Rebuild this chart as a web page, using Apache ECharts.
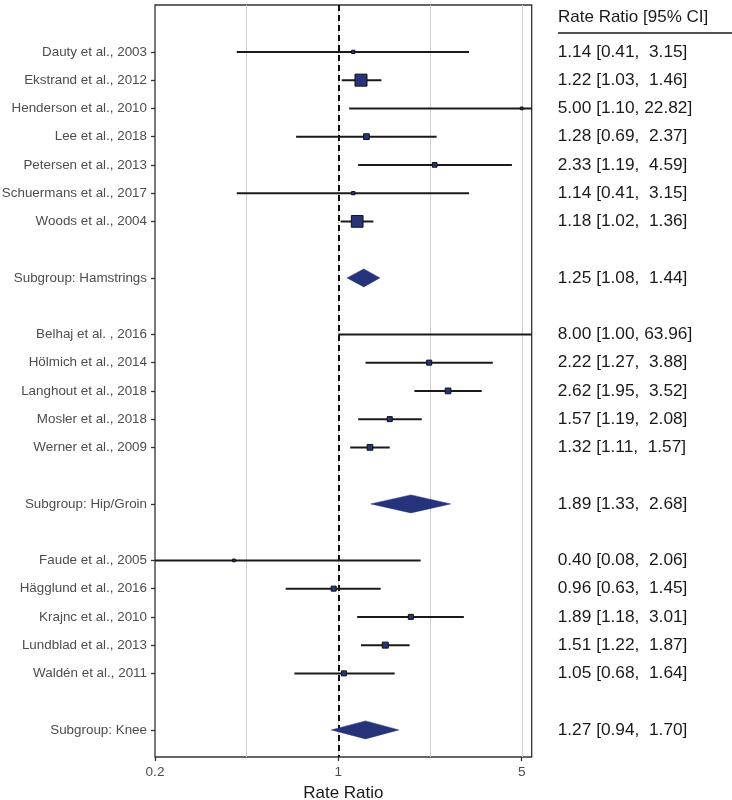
<!DOCTYPE html>
<html>
<head>
<meta charset="utf-8">
<script src="https://cdn.jsdelivr.net/npm/echarts@6/dist/echarts.min.js"></script>
<style>html,body{margin:0;padding:0;background:#fff;}#c{width:732px;height:800px;}</style>
</head>
<body>
<div id="c"></div>
<script>
const studyLabels = ['Dauty et al., 2003','Ekstrand et al., 2012','Henderson et al., 2010','Lee et al., 2018','Petersen et al., 2013','Schuermans et al., 2017','Woods et al., 2004',
  'Belhaj et al. , 2016','Hölmich et al., 2014','Langhout et al., 2018','Mosler et al., 2018','Werner et al., 2009',
  'Faude et al., 2005','Hägglund et al., 2016','Krajnc et al., 2010','Lundblad et al., 2013','Waldén et al., 2011'];
const studyGroup = ['Hamstrings','Hamstrings','Hamstrings','Hamstrings','Hamstrings','Hamstrings','Hamstrings',
  'Hip/Groin','Hip/Groin','Hip/Groin','Hip/Groin','Hip/Groin',
  'Knee','Knee','Knee','Knee','Knee'];
const studyRR = [1.14,1.22,5.00,1.28,2.33,1.14,1.18, 8.00,2.22,2.62,1.57,1.32, 0.40,0.96,1.89,1.51,1.05];
const studyLo = [0.41,1.03,1.10,0.69,1.19,0.41,1.02, 1.00,1.27,1.95,1.19,1.11, 0.08,0.63,1.18,1.22,0.68];
const studyHi = [3.15,1.46,22.82,2.37,4.59,3.15,1.36, 63.96,3.88,3.52,2.08,1.57, 2.06,1.45,3.01,1.87,1.64];
const studyWeight = [3,40,2,9,6,3,38, 1,7,9,7,9, 2,7,7,10,7];
const subgroupNames = ['Hamstrings','Hip/Groin','Knee'];
const subgroupRR = [1.25,1.89,1.27];
const subgroupLo = [1.08,1.33,0.94];
const subgroupHi = [1.44,2.68,1.70];
const xTickValues = [0.2,1,5];
const xMin = 0.2, xMax = 5.46;

// build row layout
const rowLabel = {}, rowText = {};
const studyRows = [], subRows = [];
let row = 1;
function fmt(v){return v.toFixed(2);}
function ciText(rr,lo,hi){return fmt(rr)+' ['+fmt(lo)+', '+(hi<10?' ':'')+fmt(hi)+']';}
subgroupNames.forEach((g,gi)=>{
  studyLabels.forEach((s,i)=>{
    if(studyGroup[i]!==g) return;
    studyRows.push([row,studyRR[i],studyLo[i],studyHi[i],studyWeight[i]]);
    rowLabel[row]=s; rowText[row]=ciText(studyRR[i],studyLo[i],studyHi[i]);
    row++;
  });
  row++;
  subRows.push([row,subgroupRR[gi],subgroupLo[gi],subgroupHi[gi]]);
  rowLabel[row]='Subgroup: '+g; rowText[row]=ciText(subgroupRR[gi],subgroupLo[gi],subgroupHi[gi]);
  row+=2;
});
const labelRows = Object.keys(rowLabel).map(Number);
const L = Math.log10;
const yMin = -0.66, yMax = 25.96;
const gridVals = [Math.sqrt(xTickValues[0]*xTickValues[1]), xTickValues[1], Math.sqrt(xTickValues[1]*xTickValues[2]), xTickValues[2]];

const chart = echarts.init(document.getElementById('c'));
const lab = {fontFamily:'Liberation Sans, Arial, sans-serif'};
chart.setOption({
  animation:false,
  grid:{left:155,right:200.3,top:5,bottom:43,show:true,borderColor:'#333',borderWidth:1.3,backgroundColor:'transparent',containLabel:false,outerBoundsMode:'none'},
  xAxis:{type:'value',min:L(xMin),max:L(xMax),
    axisLine:{show:false,onZero:false},
    axisTick:{show:true,length:4,lineStyle:{color:'#333',width:1.3},customValues:xTickValues.map(L)},
    axisLabel:{customValues:xTickValues.map(L),formatter:v=>String(+Math.pow(10,v).toFixed(2)),color:'#4d4d4d',fontSize:13.6,margin:8,...lab},
    splitLine:{show:false},
    name:'Rate Ratio',nameLocation:'middle',nameGap:28,nameTextStyle:{color:'#1a1a1a',fontSize:17,...lab}},
  yAxis:[{type:'value',min:yMin,max:yMax,inverse:true,
    axisLine:{show:false,onZero:false},
    axisTick:{show:true,length:4,lineStyle:{color:'#333',width:1.3},customValues:labelRows},
    axisLabel:{customValues:labelRows,formatter:v=>rowLabel[Math.round(v)]||'',color:'#4d4d4d',fontSize:13.4,margin:8,...lab},
    splitLine:{show:false}},
   {type:'value',min:yMin,max:yMax,inverse:true,position:'right',
    axisLine:{show:false,onZero:false},axisTick:{show:false},
    axisLabel:{customValues:labelRows,formatter:v=>rowText[Math.round(v)]||'',color:'#1a1a1a',fontSize:17.3,margin:26,align:'left',...lab},
    splitLine:{show:false}}],
  graphic:[
    {type:'text',left:558,top:9,style:{text:'Rate Ratio [95% CI]',fill:'#1a1a1a',fontSize:17,fontFamily:'Liberation Sans, Arial, sans-serif'}},
    {type:'line',shape:{x1:558,y1:33,x2:732,y2:33},style:{stroke:'#1a1a1a',lineWidth:1.5}}
  ],
  series:[
    {type:'line',data:[],silent:true,
      markLine:{silent:true,symbol:'none',label:{show:false},
        lineStyle:{color:'#cfcfcf',width:1,type:'solid'},
        data:gridVals.map(v=>({xAxis:L(v)}))}},
    {type:'line',data:[],silent:true,z:5,
      markLine:{silent:true,symbol:'none',label:{show:false},
        lineStyle:{color:'#111',width:2,type:[6,4]},
        data:[{xAxis:0}]}},
    {type:'custom',z:10,clip:true,data:studyRows,
      renderItem:function(params,api){
        const y=api.value(0), rr=api.value(1), lo=api.value(2), hi=api.value(3), w=api.value(4);
        const p1=api.coord([L(Math.max(lo,xMin)),y]);
        const p2=api.coord([L(Math.min(hi,xMax)),y]);
        const pc=api.coord([L(rr),y]);
        const s=1.9*Math.sqrt(w);
        const children=[{type:'line',shape:{x1:p1[0],y1:p1[1],x2:p2[0],y2:p2[1]},style:{stroke:'#1a1a1a',lineWidth:2}}];
        if(rr<=xMax && rr>=xMin){
          children.push({type:'rect',shape:{x:pc[0]-s/2,y:pc[1]-s/2,width:s,height:s},style:{fill:'#27347a',stroke:'#111',lineWidth:1}});
        }
        return {type:'group',children:children};
      }},
    {type:'custom',z:10,data:subRows,
      renderItem:function(params,api){
        const y=api.value(0);
        const pc=api.coord([L(api.value(1)),y]);
        const pl=api.coord([L(api.value(2)),y]);
        const ph=api.coord([L(api.value(3)),y]);
        const h=9;
        return {type:'polygon',shape:{points:[[pl[0],pl[1]],[pc[0],pc[1]-h],[ph[0],ph[1]],[pc[0],pc[1]+h]]},style:{fill:'#25337a',stroke:'#25337a',lineWidth:0.5}};
      }}
  ]
});
</script>
</body>
</html>
